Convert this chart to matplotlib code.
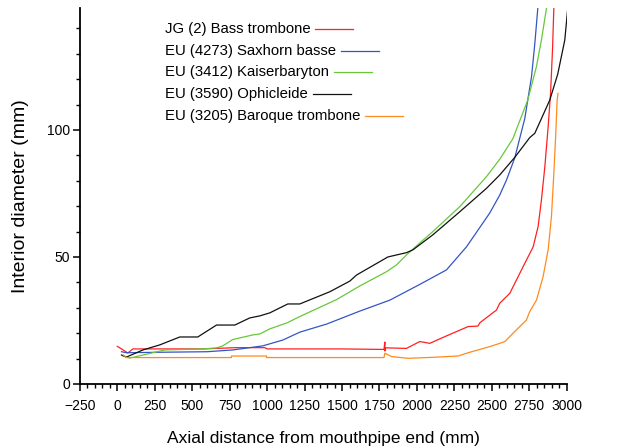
import numpy as np
import matplotlib
matplotlib.use("Agg")
import matplotlib.pyplot as plt
from matplotlib.ticker import MultipleLocator

plt.rcParams['font.family'] = ['Liberation Sans', 'DejaVu Sans']

# JG (2) Bass trombone
red_x = [0, 28, 70, 104, 300, 571, 795, 985, 1000, 1500, 1780, 1786, 1786, 1792, 1806, 1930,
         2019, 2086, 2200, 2342, 2408, 2420, 2531, 2553, 2620, 2709, 2776, 2809, 2831, 2854,
         2876, 2892, 2905, 2914]
red_y = [14.8, 13.8, 12.2, 13.8, 13.8, 13.8, 14.3, 14.3, 13.8, 13.8, 13.6, 16.5, 13.0, 14.2, 14.2, 14.0,
         16.7, 16.0, 19.0, 22.6, 22.8, 24.1, 29.1, 31.8, 35.7, 46.2, 54.0, 62.0, 72.4, 85.6,
         101.3, 114.4, 131.5, 148]

# EU (4273) Saxhorn basse
blue_x = [28, 60, 300, 600, 771, 971, 1105, 1218, 1398, 1619, 1819, 2019, 2197, 2331, 2486,
          2553, 2598, 2653, 2720, 2765, 2787, 2807]
blue_y = [12.7, 12.3, 12.5, 12.7, 13.4, 15.0, 17.3, 20.4, 23.6, 28.7, 33.0, 39.2, 44.9, 54.0, 67.3,
          74.4, 80.3, 89.0, 104.5, 121.0, 134.0, 148]

# EU (3412) Kaiserbaryton
green_x = [37, 83, 171, 317, 571, 662, 704, 771, 904, 951, 1018, 1130, 1238, 1463, 1619, 1797,
           1864, 1930, 2019, 2106, 2286, 2464, 2553, 2640, 2740, 2798, 2831, 2865]
green_y = [11.0, 10.2, 11.4, 13.4, 13.8, 14.2, 15.0, 17.5, 19.3, 19.7, 21.7, 24.0, 27.1, 33.2, 38.6, 44.2,
           46.9, 50.8, 55.5, 60.0, 69.8, 81.6, 88.5, 96.5, 111.8, 125.0, 135.4, 148]

# EU (3590) Ophicleide
black_x = [28, 61, 171, 284, 417, 537, 662, 784, 884, 951, 1018, 1138, 1218, 1418, 1552, 1597,
           1806, 1930, 1973, 2106, 2286, 2464, 2553, 2653, 2753, 2787, 2887, 2940, 2987, 3007]
black_y = [11.4, 10.6, 13.4, 15.4, 18.5, 18.5, 23.2, 23.2, 26.0, 26.8, 28.0, 31.5, 31.5, 36.3, 40.5, 42.9,
           50.0, 51.7, 52.8, 58.7, 67.8, 77.0, 82.3, 89.2, 97.0, 98.7, 111.8, 122.0, 135.4, 148]

# EU (3205) Baroque trombone
orange_x = [39, 61, 762, 762, 996, 996, 1780, 1786, 1830, 1941, 2108, 2275, 2342, 2486, 2553,
            2587, 2642, 2664, 2731, 2753, 2798, 2842, 2876, 2898, 2914, 2927, 2936, 2942]
orange_y = [11.4, 10.4, 10.4, 11.0, 11.0, 10.4, 10.4, 12.1, 10.8, 10.1, 10.5, 11.0, 12.3, 14.7, 16.0,
            16.7, 20.0, 21.3, 25.2, 28.5, 33.0, 42.2, 52.8, 65.9, 83.0, 98.7, 111.8, 114.4]

labels = ["JG (2) Bass trombone", "EU (4273) Saxhorn basse", "EU (3412) Kaiserbaryton",
          "EU (3590) Ophicleide", "EU (3205) Baroque trombone"]
colors = ["#ff2020", "#3355c4", "#66c83a", "#111111", "#ff8a1e"]
series = [(red_x, red_y), (blue_x, blue_y), (green_x, green_y), (black_x, black_y), (orange_x, orange_y)]

fig = plt.figure(figsize=(6.29, 4.47), dpi=100)
ax = fig.add_axes([0.127, 0.141, 0.774, 0.841])

for (xs, ys), c in zip(series, colors):
    ax.plot(xs, ys, color=c, lw=0.9)

ax.set_xlim(-250, 3000)
ax.set_ylim(0, 148)
ax.xaxis.set_major_locator(MultipleLocator(250))
ax.xaxis.set_minor_locator(MultipleLocator(50))
ax.yaxis.set_major_locator(MultipleLocator(50))
ax.yaxis.set_minor_locator(MultipleLocator(10))
ax.tick_params(which='major', direction='out', length=5, width=1.1, labelsize=10, pad=2)
ax.tick_params(axis='x', which='major', pad=6)
ax.tick_params(which='minor', direction='out', length=3, width=1.0)
for s in ['top', 'right']:
    ax.spines[s].set_visible(False)
for s in ['left', 'bottom']:
    ax.spines[s].set_linewidth(1.3)

ax.set_xlabel("Axial distance from mouthpipe end (mm)", fontsize=12.5, labelpad=13)
ax.set_ylabel("Interior diameter (mm)", fontsize=14, labelpad=13)

# legend: text followed by a short line sample
fig.canvas.draw()
r = fig.canvas.get_renderer()
inv = ax.transAxes.inverted()
for i, (lab, c) in enumerate(zip(labels, colors)):
    y = 0.945 - i * 0.058
    t = ax.text(0.1745, y, lab, transform=ax.transAxes, va='center', ha='left', fontsize=10.7)
    bb = t.get_window_extent(r)
    x0 = inv.transform((bb.x1 + 5, 0))[0]
    x1 = inv.transform((bb.x1 + 43, 0))[0]
    ax.plot([x0, x1], [y, y], transform=ax.transAxes, color=c, lw=0.9, clip_on=False)

fig.savefig("out.png", dpi=100)
